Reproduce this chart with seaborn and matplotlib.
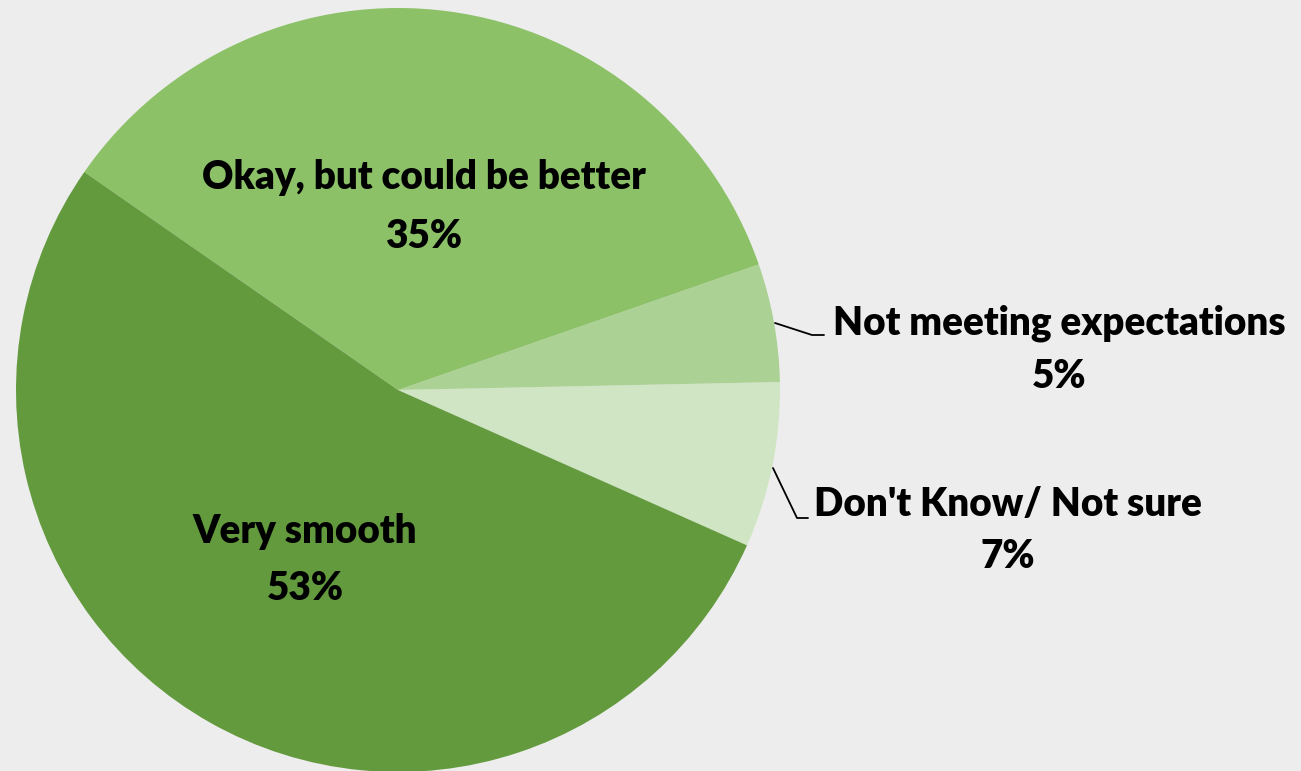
import matplotlib
matplotlib.use("Agg")
import matplotlib.pyplot as plt
import seaborn as sns

categories = ["Don't Know/ Not sure", "Not meeting expectations", "Okay, but could be better", "Very smooth"]
values = [7, 5, 35, 53]
pct_labels = ["7%", "5%", "35%", "53%"]
colors = ["#D0E5C3", "#ABD195", "#8CC168", "#639A3E"]

sns.set_theme(style="white")
plt.rcParams['font.family'] = ['Lato', 'DejaVu Sans']

W, H = 1301, 771
fig = plt.figure(figsize=(W / 100, H / 100), dpi=100)
fig.patch.set_facecolor("#EDEDED")
ax = fig.add_axes([0, 0, 1, 1])
ax.set_facecolor("#EDEDED")

cx, cy, r = 398, H - 390, 382
ax.pie(values, colors=colors, startangle=-24, counterclock=True,
       center=(cx, cy), radius=r, frame=True,
       wedgeprops=dict(linewidth=0))
ax.set_xlim(0, W)
ax.set_ylim(0, H)
ax.set_aspect("equal")
ax.axis("off")

fs = 27.8
tkw = dict(fontsize=fs, fontweight="heavy", color="black", ha="center", va="center")
pos = {
    0: (1008, 505, 557),
    1: (1059, 323, 376),
    2: (424, 177, 237),
    3: (305, 531, 589),
}
for i, (x, y1, y2) in pos.items():
    ax.text(x, H - y1, categories[i], **tkw)
    ax.text(x, H - y2, pct_labels[i], **tkw)

ax.plot([775, 812, 824], [H - 323, H - 335, H - 335], color="black", lw=1.3)
ax.plot([773, 797, 808], [H - 468, H - 518, H - 518], color="black", lw=1.3)

fig.savefig("out.png", dpi=100, facecolor=fig.get_facecolor())
